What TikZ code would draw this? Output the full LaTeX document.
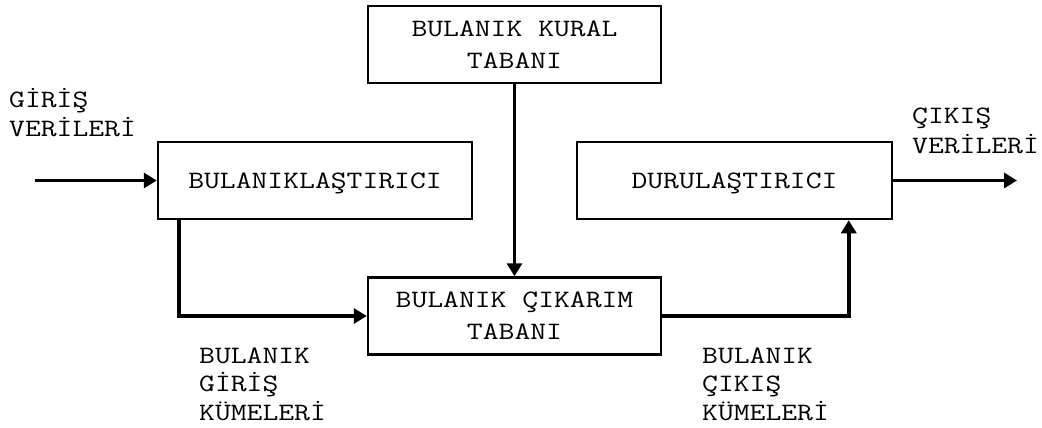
\documentclass[tikz,border=0pt]{standalone}
\usepackage{fontspec}
\newfontfamily\courlike{Latin Modern Mono}[FakeStretch=1.23]
\usetikzlibrary{arrows.meta}
\tikzset{
  blockbox/.style={draw, line width=2.5pt, inner sep=0pt, minimum height=77pt,
    align=center, text depth=0pt, font=\courlike\fontsize{25}{32}\selectfont},
  lbl/.style={inner sep=0pt, anchor=base west, align=left},
  flow/.style={line width=3.7pt, -{Triangle[length=13pt,width=15pt]}}
}
\begin{document}
\begin{tikzpicture}[x=1pt,y=-1pt]
\useasboundingbox (0,0) rectangle (1042,428);
\node[blockbox, minimum width=293pt] (kb) at (514.5,44.5) {BULANIK KURAL\\TABANI};
\node[blockbox, minimum width=314pt] (fz) at (315,180.5) {BULANIKLAŞTIRICI};
\node[blockbox, minimum width=315pt] (df) at (734.5,180.5) {DURULAŞTIRICI};
\node[blockbox, minimum width=293pt] (ci) at (514.5,316) {BULANIK ÇIKARIM\\TABANI};
\coordinate (in) at (35,180.5);
\coordinate (out) at (1017,180.5);
\node[lbl, font=\courlike\fontsize{25}{29}\selectfont] (gv) at (9,136) {GİRİŞ\\VERİLERİ};
\node[lbl, font=\courlike\fontsize{25}{30}\selectfont] (cv) at (912,153) {ÇIKIŞ\\VERİLERİ};
\node[lbl, font=\courlike\fontsize{25}{28.5}\selectfont] (gk) at (199,420) {BULANIK\\GİRİŞ\\KÜMELERİ};
\node[lbl, font=\courlike\fontsize{25}{28.5}\selectfont] (ck) at (702,420) {BULANIK\\ÇIKIŞ\\KÜMELERİ};
\draw[flow] (in) -- (fz.west);
\draw[flow] (df.east) -- (out);
\draw[flow] (kb.south) -- (ci.north);
\draw[flow] ([xshift=22pt]fz.south west) |- (ci.west);
\draw[flow] (ci.east) -| ([xshift=273pt]df.south west);
\end{tikzpicture}
\end{document}
